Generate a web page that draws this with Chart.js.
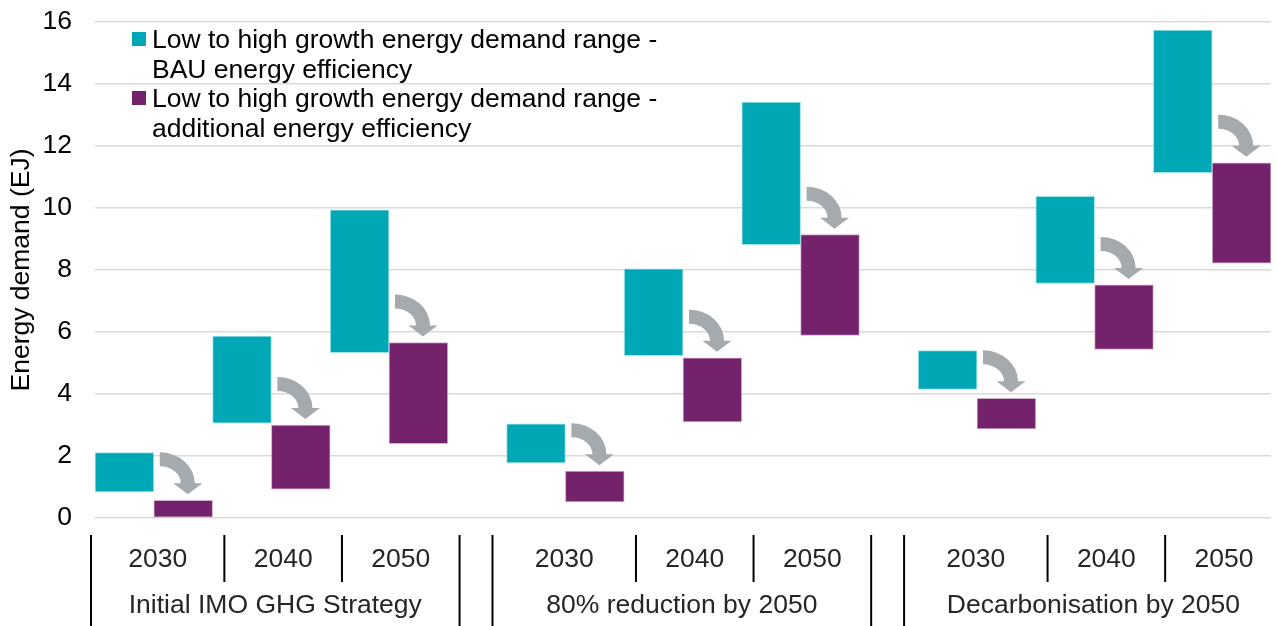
<!DOCTYPE html>
<html>
<head>
<meta charset="utf-8">
<script src="https://cdn.jsdelivr.net/npm/chart.js@4.4.0/dist/chart.umd.min.js"></script>
<style>
  html, body { margin: 0; padding: 0; background: #fff; }
  #wrap { position: relative; width: 1277px; height: 626px; }
</style>
</head>
<body>
<div id="wrap"><canvas id="chart"></canvas></div>
<script>
// ── 数据 ──
const GROUPS = ['Initial IMO GHG Strategy', '80% reduction by 2050', 'Decarbonisation by 2050'];
const YEARS = ['2030', '2040', '2050'];
const SERIES_LINES = [
  ['Low to high growth energy demand range -', 'BAU energy efficiency'],
  ['Low to high growth energy demand range -', 'additional energy efficiency']
];
// 每个场景/年份的区间（低, 高）
const BAU_LOW   = [0.84, 3.06, 5.33, 1.78, 5.24, 8.82, 4.15, 7.57, 11.14];
const BAU_HIGH  = [2.11, 5.87, 9.94, 3.04, 8.04, 13.42, 5.40, 10.38, 15.74];
const ADD_LOW   = [0.00, 0.93, 2.40, 0.52, 3.10, 5.89, 2.87, 5.44, 8.22];
const ADD_HIGH  = [0.57, 3.00, 5.66, 1.51, 5.17, 9.14, 3.86, 7.52, 11.46];
const Y_TICKS = [0, 2, 4, 6, 8, 10, 12, 14, 16];

const TEAL = '#00A7B5';
const PURPLE = '#74226C';
const ARROW = '#A4AAAD';
const FONT = '"Liberation Sans", Arial, sans-serif';
const FS = 26.5;

// ── 槽位：每组 6 个柱位 + 组间 1 个空位 ──
const SLOTS = GROUPS.length * 7 - 1;
const slotLabels = Array.from({ length: SLOTS }, (_, i) => 's' + i);
const bauData = new Array(SLOTS).fill(null);
const addData = new Array(SLOTS).fill(null);
const tealSlot = [];
GROUPS.forEach((g, gi) => {
  YEARS.forEach((y, yi) => {
    const k = gi * 3 + yi;
    const s = gi * 7 + yi * 2;
    tealSlot.push(s);
    bauData[s] = [BAU_LOW[k], BAU_HIGH[k]];
    addData[s + 1] = [ADD_LOW[k], ADD_HIGH[k]];
  });
});

// ── 图例（两行文字） ──
const legendPlugin = {
  id: 'wrapLegend',
  afterDraw(chart) {
    const { ctx, chartArea } = chart;
    const x = chartArea.left + 37;
    let y = chartArea.top + 10;
    ctx.save();
    ctx.font = FS + 'px ' + FONT;
    ctx.textBaseline = 'alphabetic';
    ctx.textAlign = 'left';
    SERIES_LINES.forEach((lines, i) => {
      ctx.fillStyle = i === 0 ? TEAL : PURPLE;
      ctx.fillRect(x, y, 14, 14);
      ctx.fillStyle = '#000';
      lines.forEach((t, li) => ctx.fillText(t, x + 20, y + 16 + li * 29.5));
      y += 59;
    });
    ctx.restore();
  }
};

// ── 灰色弯箭头 ──
const arrowPlugin = {
  id: 'arrows',
  afterDatasetsDraw(chart) {
    const { ctx } = chart;
    const m0 = chart.getDatasetMeta(0).data;
    const m1 = chart.getDatasetMeta(1).data;
    ctx.save();
    ctx.fillStyle = ARROW;
    tealSlot.forEach(s => {
      const t = m0[s], p = m1[s + 1];
      const sx = t.x + t.width / 2 + 6;
      const tipY = Math.min(p.y, p.base) - 6;
      const headH = 11, headHW = 14.5;
      const orx = 35, ory = 31, irx = 21, iry = 17;
      const cy = tipY - headH;
      const midX = sx + (orx + irx) / 2;
      ctx.beginPath();
      ctx.moveTo(sx, cy - ory);
      ctx.ellipse(sx, cy, orx, ory, 0, -Math.PI / 2, 0);
      ctx.lineTo(midX + headHW, cy);
      ctx.lineTo(midX, tipY);
      ctx.lineTo(midX - headHW, cy);
      ctx.lineTo(sx + irx, cy);
      ctx.ellipse(sx, cy, irx, iry, 0, 0, -Math.PI / 2, true);
      ctx.closePath();
      ctx.fill();
    });
    ctx.restore();
  }
};

// ── 两级 X 轴标签与分隔线 ──
const axisPlugin = {
  id: 'twoLevelAxis',
  afterDraw(chart) {
    const { ctx, chartArea, scales } = chart;
    const xs = scales.x;
    const w = xs.getPixelForValue(1) - xs.getPixelForValue(0);
    const left = i => xs.getPixelForValue(i) - w / 2;
    const b = chartArea.bottom;
    ctx.save();
    ctx.strokeStyle = '#000';
    ctx.lineWidth = 2;
    ctx.fillStyle = '#262626';
    ctx.font = FS + 'px ' + FONT;
    ctx.textAlign = 'center';
    ctx.textBaseline = 'middle';
    GROUPS.forEach((g, gi) => {
      const s0 = gi * 7;
      const seps = [
        Math.max(left(s0) - 0.24 * w, chartArea.left - 4),
        left(s0 + 2) + 0.2 * w,
        left(s0 + 4) + 0.2 * w,
        left(s0 + 6) + 0.2 * w
      ];
      [0, 3].forEach(k => {
        ctx.beginPath();
        ctx.moveTo(seps[k], b + 17);
        ctx.lineTo(seps[k], b + 110);
        ctx.stroke();
      });
      [1, 2].forEach(k => {
        ctx.beginPath();
        ctx.moveTo(seps[k], b + 17);
        ctx.lineTo(seps[k], b + 64);
        ctx.stroke();
      });
      YEARS.forEach((y, yi) => ctx.fillText(y, (seps[yi] + seps[yi + 1]) / 2, b + 42));
      ctx.fillText(g, (seps[0] + seps[3]) / 2, b + 88);
    });
    ctx.restore();
  }
};

new Chart(document.getElementById('chart'), {
  type: 'bar',
  data: {
    labels: slotLabels,
    datasets: [
      {
        label: SERIES_LINES[0].join(' '),
        data: bauData,
        backgroundColor: TEAL,
        borderColor: 'rgba(120,215,225,0.7)',
        borderWidth: 1,
        borderSkipped: false,
        skipNull: true,
        barPercentage: 1,
        categoryPercentage: 1
      },
      {
        label: SERIES_LINES[1].join(' '),
        data: addData,
        backgroundColor: PURPLE,
        borderColor: 'rgba(190,140,185,0.7)',
        borderWidth: 1,
        borderSkipped: false,
        skipNull: true,
        barPercentage: 1,
        categoryPercentage: 1
      }
    ]
  },
  options: {
    responsive: true,
    maintainAspectRatio: false,
    animation: false,
    layout: { padding: { top: 22, right: 6, left: 0, bottom: 0 } },
    plugins: {
      legend: { display: false },
      tooltip: { enabled: false }
    },
    scales: {
      x: {
        ticks: { display: false },
        grid: { display: false },
        border: { display: false },
        afterFit: s => { s.height = 108; s.paddingLeft = 0; s.paddingRight = 0; }
      },
      y: {
        min: 0,
        max: 16,
        afterBuildTicks: s => { s.ticks = Y_TICKS.map(v => ({ value: v })); },
        ticks: { color: '#000', font: { size: FS, family: FONT }, padding: 23 },
        grid: { color: '#d9d9d9', lineWidth: 1.5, drawTicks: false },
        border: { display: false },
        title: {
          display: true,
          text: 'Energy demand (EJ)',
          color: '#000',
          font: { size: FS, family: FONT },
          padding: { top: 6, bottom: 0 }
        },
        afterFit: s => { s.width = 95; s.paddingTop = 0; s.paddingBottom = 0; }
      }
    }
  },
  plugins: [legendPlugin, arrowPlugin, axisPlugin]
});
</script>
</body>
</html>
